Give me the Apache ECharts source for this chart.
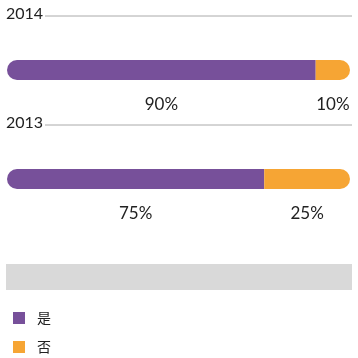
<!DOCTYPE html>
<html>
<head>
<meta charset="utf-8">
<script src="https://cdn.jsdelivr.net/npm/echarts@6/dist/echarts.min.js"></script>
<style>html,body{margin:0;padding:0;background:#fff}#c{width:358px;height:358px}</style>
</head>
<body>
<div id="c"></div>
<script>
var years = ['2014', '2013'];
var yesValues = [90, 75];
var noValues = [10, 25];
var seriesNames = ['是', '否'];
var colors = ['#77509A', '#F6A534'];

var chart = echarts.init(document.getElementById('c'));
var font = 'Lato, "Noto Sans CJK SC", sans-serif';
chart.setOption({
  animation: false,
  color: colors,
  grid: { left: 7, right: 8, top: 15.5, height: 218 },
  xAxis: { type: 'value', min: 0, max: 100, show: false },
  yAxis: { type: 'category', data: years, inverse: true, show: false },
  legend: {
    orient: 'vertical', left: 8, top: 306, height: 52,
    icon: 'rect', itemWidth: 12, itemHeight: 12, itemGap: 15,
    textStyle: { fontSize: 14, color: '#222', fontFamily: font, padding: [0, 0, 0, 7] },
    data: seriesNames
  },
  series: [
    {
      name: seriesNames[0], type: 'bar', stack: 's', data: yesValues, barWidth: 20,
      itemStyle: { borderRadius: [10, 0, 0, 10] },
      label: { show: true, position: 'bottom', distance: 16, formatter: '{c}%', fontSize: 17, color: '#222', fontFamily: font }
    },
    {
      name: seriesNames[1], type: 'bar', stack: 's', data: noValues, barWidth: 20,
      itemStyle: { borderRadius: [0, 10, 10, 0] },
      label: { show: true, position: 'bottom', distance: 16, formatter: '{c}%', fontSize: 17, color: '#222', fontFamily: font }
    }
  ]
});

var g = [];
years.forEach(function (y) {
  var cy = chart.convertToPixel({ yAxisIndex: 0 }, y) - 54;
  g.push({ type: 'text', left: 6, top: cy - 10, style: { text: y, fontSize: 16, fill: '#222', fontFamily: font } });
  g.push({ type: 'line', shape: { x1: 45, y1: cy, x2: 352, y2: cy }, style: { stroke: '#aaa', lineWidth: 1 } });
});
g.push({ type: 'rect', shape: { x: 6, y: 264, width: 346, height: 26 }, style: { fill: '#D9D9D9' } });
chart.setOption({ graphic: g });
</script>
</body>
</html>
